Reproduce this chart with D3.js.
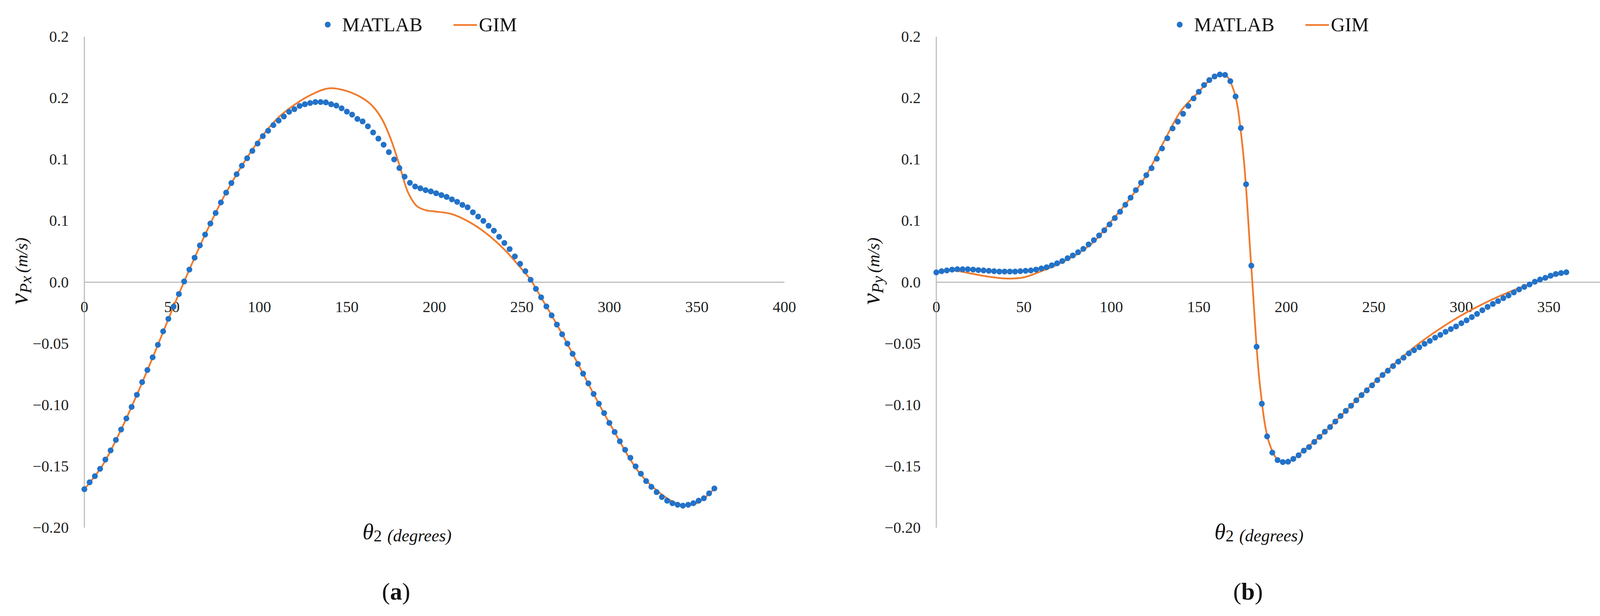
<!DOCTYPE html>
<html><head><meta charset="utf-8">
<script src="https://cdn.jsdelivr.net/npm/d3@7"></script>
<style>html,body{margin:0;padding:0;background:#fff;overflow:hidden}svg{display:block}</style></head>
<body><svg id="c" width="4261" height="1577" viewBox="0 0 4261 1577"></svg>
<script>
const angleStep = 3;
const matlabA = [-0.1686,-0.163,-0.158,-0.152,-0.1445,-0.137,-0.1285,-0.120,-0.111,-0.1016,-0.0917,-0.0814,-0.0715,-0.0612,-0.051,-0.040,-0.0298,-0.0199,-0.0096,0.0006,0.0103,0.020,0.030,0.0388,0.0478,0.0564,0.065,0.073,0.0808,0.088,0.0949,0.101,0.107,0.113,0.119,0.1234,0.128,0.1317,0.135,0.1388,0.141,0.1436,0.145,0.146,0.1468,0.1468,0.1465,0.145,0.1439,0.1417,0.139,0.1365,0.133,0.131,0.127,0.122,0.117,0.112,0.106,0.100,0.093,0.086,0.081,0.078,0.0765,0.075,0.074,0.0725,0.071,0.0695,0.0675,0.0655,0.063,0.061,0.057,0.0535,0.050,0.046,0.042,0.037,0.032,0.027,0.021,0.015,0.009,0.002,-0.0054,-0.0123,-0.0197,-0.027,-0.0345,-0.0424,-0.050,-0.0583,-0.0666,-0.0745,-0.0824,-0.091,-0.099,-0.1066,-0.1146,-0.122,-0.1296,-0.1365,-0.143,-0.150,-0.156,-0.162,-0.1667,-0.171,-0.175,-0.178,-0.180,-0.1813,-0.182,-0.1813,-0.180,-0.178,-0.176,-0.172,-0.168];
const gimAx = [0,10,20,30,40,50,60,70,80,90,100,110,120,130,140,150,160,165,170,175,180,185,190,195,200,210,220,230,240,250,255,260,270,280,300,320,340,350,360];
const gimAy = [-0.1686,-0.150,-0.123,-0.0917,-0.058,-0.023,0.0103,0.0418,0.0705,0.0949,0.116,0.133,0.1445,0.153,0.158,0.1557,0.149,0.143,0.133,0.117,0.0955,0.073,0.062,0.0587,0.0577,0.0555,0.049,0.0394,0.0266,0.0106,0.002,-0.010,-0.0345,-0.061,-0.1146,-0.160,-0.181,-0.180,-0.168];
const matlabB = [0.0080,0.0090,0.0096,0.0103,0.0106,0.0106,0.0106,0.0103,0.0099,0.0096,0.0093,0.0090,0.0087,0.0087,0.0087,0.0087,0.009,0.0093,0.0096,0.0103,0.0112,0.0122,0.0138,0.0154,0.0173,0.0196,0.0218,0.0244,0.0272,0.0308,0.0343,0.0381,0.0423,0.0471,0.0523,0.0574,0.0631,0.0689,0.075,0.0811,0.0872,0.0929,0.1006,0.109,0.1173,0.1253,0.1308,0.1372,0.1436,0.1497,0.1551,0.1606,0.1647,0.1676,0.1692,0.1689,0.1638,0.1513,0.1256,0.0798,0.0135,-0.0526,-0.099,-0.1256,-0.1388,-0.1449,-0.1465,-0.1462,-0.1439,-0.141,-0.1372,-0.1343,-0.1301,-0.126,-0.1218,-0.118,-0.1135,-0.109,-0.1048,-0.1006,-0.0962,-0.092,-0.0881,-0.084,-0.0798,-0.0756,-0.0721,-0.0683,-0.0647,-0.0615,-0.058,-0.0554,-0.053,-0.0502,-0.0478,-0.0452,-0.0429,-0.0404,-0.0382,-0.036,-0.0334,-0.031,-0.0284,-0.0258,-0.0228,-0.0201,-0.0177,-0.0154,-0.013,-0.0108,-0.0083,-0.0059,-0.0038,-0.0018,0.0004,0.0022,0.0036,0.0053,0.0067,0.0075,0.0081];
const gimBx = [0,10,20,30,40,50,60,70,80,90,100,110,120,130,140,150,155,160,165,170,175,180,185,190,195,200,210,220,230,250,270,280,300,320,340,350,360];
const gimBy = [0.008,0.0095,0.007,0.0045,0.003,0.004,0.009,0.015,0.0225,0.033,0.0497,0.067,0.0872,0.1145,0.140,0.1551,0.163,0.1685,0.169,0.156,0.11,0.012,-0.085,-0.130,-0.1445,-0.147,-0.137,-0.1245,-0.1105,-0.082,-0.0565,-0.0455,-0.027,-0.0125,-0.001,0.004,0.0081];
const xTicks = [0,50,100,150,200,250,300,350,400];
const yTicks = [0.20,0.15,0.10,0.05,0.00,-0.05,-0.10,-0.15,-0.20];
const yTickLabels = ["0.2","0.2","0.1","0.1","0.0","\u22120.05","\u22120.10","\u22120.15","\u22120.20"];
const seriesNames = ["MATLAB","GIM"];
const panels = [
  {m: matlabA, gx: gimAx, gy: gimAy, sub: "Px", tag: "a"},
  {m: matlabB, gx: gimBx, gy: gimBy, sub: "Py", tag: "b"}
];

const svg = d3.select("#c");
const serif = "'Liberation Serif','DejaVu Serif',serif";
const blue = "#2272C8", orange = "#F07B2E";
panels.forEach((p, i) => {
  const off = i * 2181;
  const g = svg.append("g").attr("transform", `translate(${off},0)`);
  const x = d3.scaleLinear().domain([0,400]).range([216,2008]);
  const y = d3.scaleLinear().domain([-0.2,0.2]).range([1351,94]);
  g.append("line").attr("x1",x(0)).attr("x2",x(0)).attr("y1",y(0.2)).attr("y2",y(-0.2)).attr("stroke","#BFBFBF").attr("stroke-width",3);
  g.append("line").attr("x1",x(0)).attr("x2",x(400)).attr("y1",y(0)).attr("y2",y(0)).attr("stroke","#BFBFBF").attr("stroke-width",3);
  g.selectAll(".xt").data(xTicks).enter().append("text").attr("x",d=>x(d)).attr("y",y(0)+76)
    .attr("text-anchor","middle").attr("font-family",serif).attr("font-size",40).attr("fill","#222").text(d=>d);
  g.selectAll(".yt").data(yTicks).enter().append("text").attr("x",176).attr("y",(d)=>y(d)+13)
    .attr("text-anchor","end").attr("font-family",serif).attr("font-size",40).attr("fill","#222").text((d,k)=>yTickLabels[k]);
  const line = d3.line().x(d=>x(d[0])).y(d=>y(d[1])).curve(d3.curveCatmullRom.alpha(0.5));
  g.append("path").datum(p.gx.map((v,k)=>[v,p.gy[k]])).attr("d",line).attr("fill","none").attr("stroke",orange).attr("stroke-width",4.5);
  g.selectAll(".pt").data(p.m).enter().append("circle").attr("cx",(d,k)=>x(k*angleStep)).attr("cy",d=>y(d)).attr("r",7.5).attr("fill",blue);
  g.append("circle").attr("cx",839).attr("cy",63).attr("r",7.5).attr("fill",blue);
  g.append("text").attr("x",876).attr("y",80).attr("font-family",serif).attr("font-size",50).attr("fill","#111").text(seriesNames[0]);
  g.append("line").attr("x1",1161).attr("x2",1221).attr("y1",64).attr("y2",64).attr("stroke",orange).attr("stroke-width",4.5);
  g.append("text").attr("x",1226).attr("y",80).attr("font-family",serif).attr("font-size",50).attr("fill","#111").text(seriesNames[1]);
  const xt = g.append("text").attr("x",928).attr("y",1380).attr("font-family",serif).attr("font-style","italic").attr("fill","#111");
  xt.append("tspan").attr("font-size",58).text("\u03B8");
  xt.append("tspan").attr("font-size",42).attr("font-style","normal").attr("dy",6).text("2");
  xt.append("tspan").attr("font-size",44).attr("dx",14).text("(degrees)");
  const yt = g.append("text").attr("transform","translate(70,694) rotate(-90)").attr("text-anchor","middle")
    .attr("font-family",serif).attr("font-style","italic").attr("fill","#111");
  yt.append("tspan").attr("font-size",66).text("v");
  yt.append("tspan").attr("font-size",42).attr("dy",10).text(p.sub);
  yt.append("tspan").attr("font-size",44).attr("dy",-10).attr("dx",8).text("(m/s)");
  const tg = g.append("text").attr("x",1014).attr("y",1535).attr("text-anchor","middle").attr("font-family",serif).attr("font-size",62).attr("fill","#111");
  tg.append("tspan").text("(");
  tg.append("tspan").attr("font-weight","bold").text(p.tag);
  tg.append("tspan").text(")");
});
</script></body></html>
